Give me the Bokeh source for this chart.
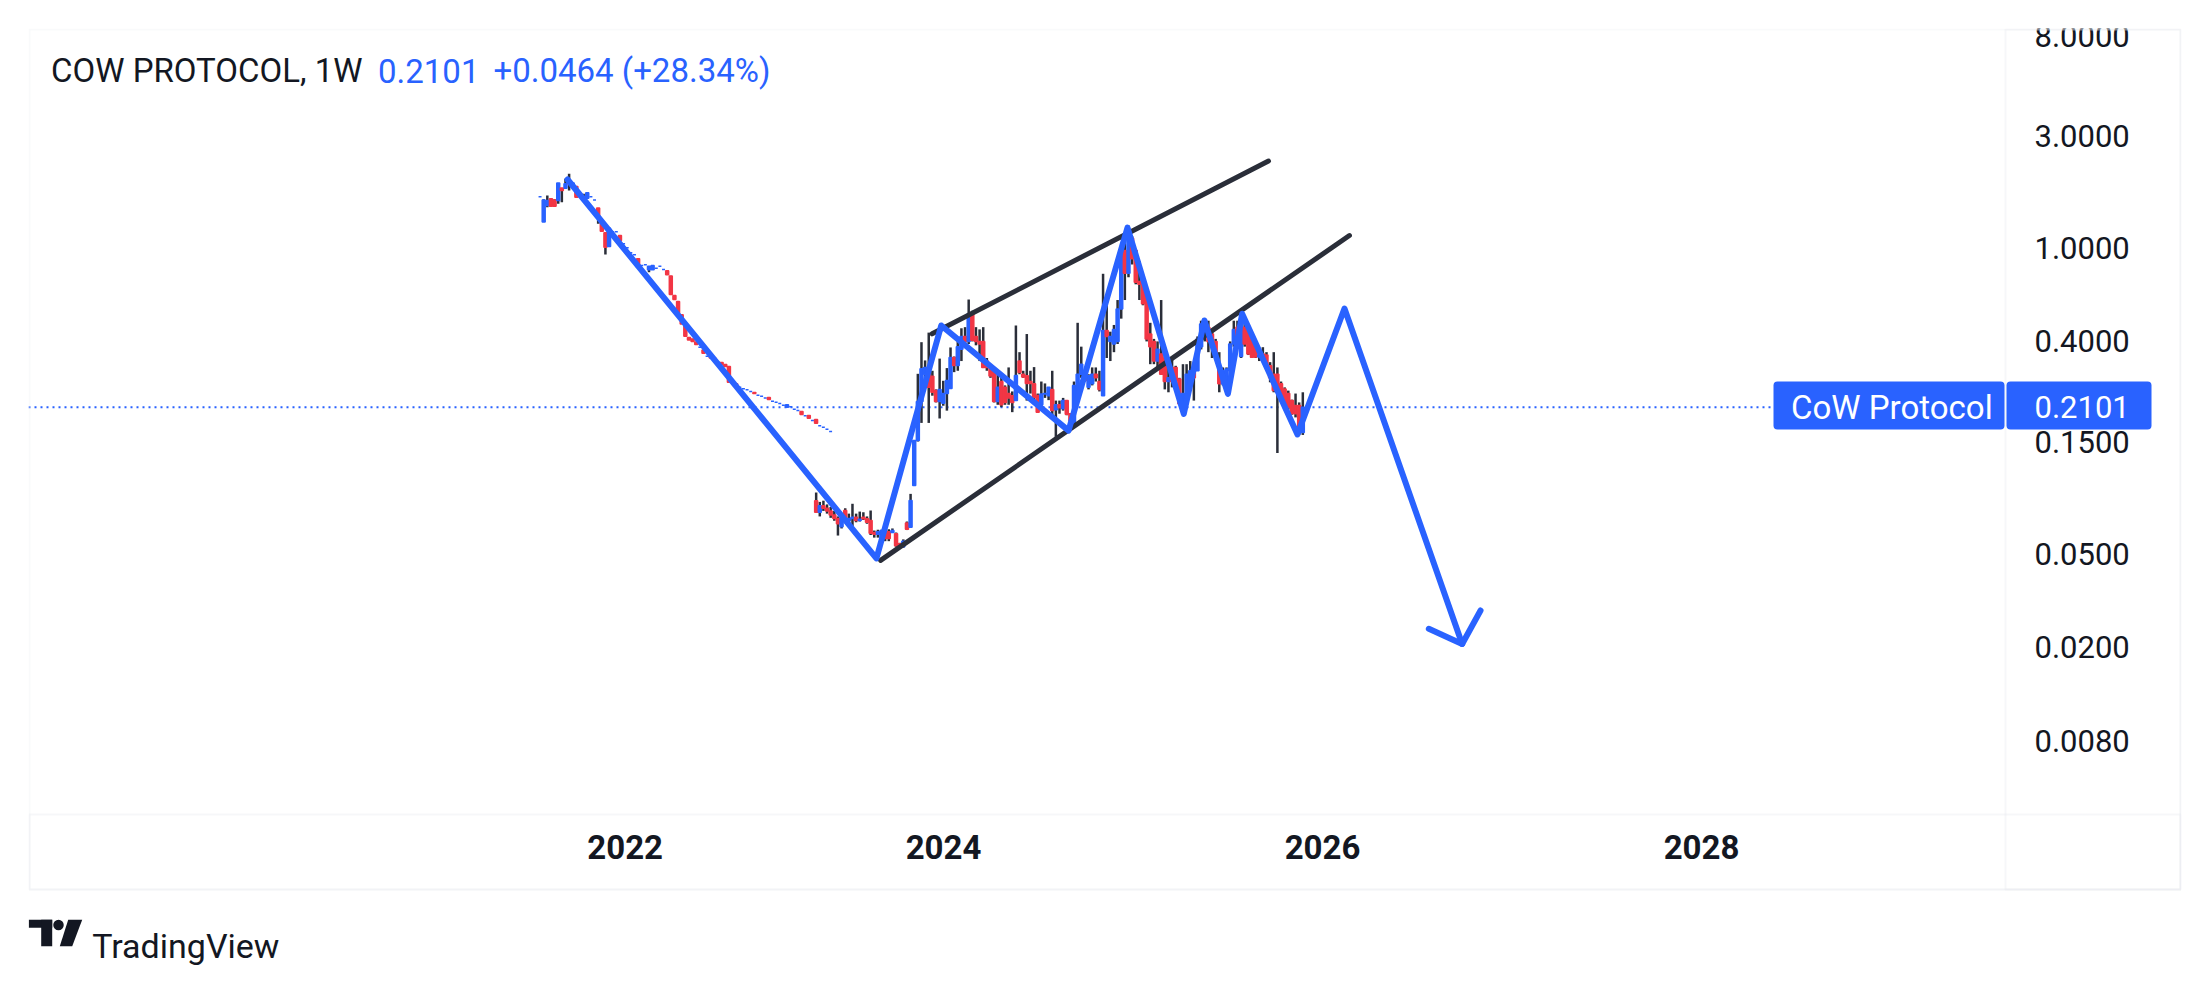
import numpy as np
from bokeh.plotting import figure
from bokeh.models import (Range1d, FixedTicker, PrintfTickFormatter, CustomJSTickFormatter,
                          Label, BoxAnnotation, ColumnDataSource)
from bokeh.embed import file_html
from bokeh.resources import INLINE

# --- weekly candles (decimal year of first bar, then o/h/l/c) ---
a_start = 2021.871
a_open = [1.65, 1.29, 1.515, 1.618, 1.60, 1.59, 1.80, 1.795, 1.93, 1.82,
          1.825, 1.66, 1.65, 1.627, 1.65, 1.60, 1.48, 1.286, 1.159, 1.014,
          1.171, 1.171, 1.129, 1.041, 1.001, 0.953, 0.935, 0.899, 0.842, 0.847,
          0.807, 0.807, 0.820, 0.836, 0.809, 0.799, 0.760, 0.627, 0.591, 0.519,
          0.475, 0.416, 0.410, 0.398, 0.378, 0.368, 0.346, 0.348, 0.340, 0.327,
          0.325, 0.319, 0.313, 0.2665, 0.264, 0.2555, 0.2513, 0.2489, 0.2449, 0.2424,
          0.236, 0.234, 0.230, 0.231, 0.2227, 0.2205, 0.2177, 0.2141, 0.210, 0.2107,
          0.2059, 0.2033, 0.2013, 0.1929, 0.1935, 0.1843, 0.1861, 0.1749, 0.1726, 0.1692,
          0.1654]
a_high = [1.65, 1.61, 1.67, 1.62, 1.61, 1.89, 1.80, 1.97, 2.07, 1.89,
          1.83, 1.70, 1.70, 1.716, 1.65, 1.60, 1.48, 1.29, 1.16, 1.217,
          1.171, 1.171, 1.13, 1.041, 1.001, 0.953, 0.935, 0.90, 0.842, 0.847,
          0.836, 0.842, 0.820, 0.836, 0.809, 0.80, 0.76, 0.627, 0.591, 0.519,
          0.475, 0.416, 0.41, 0.398, 0.378, 0.368, 0.346, 0.348, 0.34, 0.327,
          0.325, 0.319, 0.313, 0.2665, 0.264, 0.2555, 0.2513, 0.2489, 0.2449, 0.2424,
          0.236, 0.234, 0.230, 0.231, 0.2227, 0.2205, 0.2177, 0.2141, 0.2148, 0.2107,
          0.2059, 0.2033, 0.2013, 0.1929, 0.1935, 0.1843, 0.1861, 0.1749, 0.1726, 0.1692,
          0.1654]
a_low = [1.65, 1.29, 1.49, 1.50, 1.50, 1.54, 1.565, 1.795, 1.755, 1.82,
         1.644, 1.644, 1.607, 1.627, 1.65, 1.60, 1.266, 1.178, 0.937, 1.014,
         1.171, 1.171, 1.075, 1.041, 1.001, 0.953, 0.935, 0.828, 0.842, 0.847,
         0.788, 0.807, 0.820, 0.836, 0.809, 0.768, 0.633, 0.603, 0.524, 0.475,
         0.421, 0.406, 0.40, 0.388, 0.378, 0.356, 0.346, 0.34, 0.332, 0.327,
         0.32, 0.313, 0.268, 0.2665, 0.258, 0.2555, 0.2513, 0.2489, 0.2449, 0.24,
         0.236, 0.234, 0.230, 0.2264, 0.2227, 0.2205, 0.2177, 0.2141, 0.210, 0.2107,
         0.2059, 0.2033, 0.1954, 0.1929, 0.1886, 0.1843, 0.1795, 0.1749, 0.1726, 0.1692,
         0.1654]
a_close = [1.65, 1.60, 1.59, 1.505, 1.505, 1.89, 1.755, 1.875, 1.875, 1.89,
           1.644, 1.655, 1.645, 1.716, 1.65, 1.60, 1.351, 1.178, 1.007, 1.213,
           1.171, 1.171, 1.075, 1.041, 1.001, 0.953, 0.935, 0.828, 0.842, 0.847,
           0.836, 0.842, 0.820, 0.836, 0.809, 0.768, 0.633, 0.603, 0.524, 0.475,
           0.421, 0.406, 0.40, 0.388, 0.378, 0.356, 0.346, 0.34, 0.332, 0.327,
           0.32, 0.313, 0.268, 0.2665, 0.258, 0.2555, 0.2513, 0.2489, 0.2449, 0.24,
           0.236, 0.234, 0.230, 0.2264, 0.2227, 0.2205, 0.2177, 0.2141, 0.2148, 0.2107,
           0.2059, 0.2033, 0.1954, 0.1929, 0.1886, 0.1843, 0.1795, 0.1749, 0.1726, 0.1692,
           0.1654]

b_start = 2023.328
b_open = [0.084, 0.075, 0.080, 0.078, 0.076, 0.073, 0.0705, 0.065, 0.0763, 0.069,
          0.0705, 0.0715, 0.0692, 0.0715, 0.0703, 0.0692, 0.0615, 0.0605, 0.0575, 0.0627,
          0.062, 0.0615, 0.0607, 0.0551, 0.0535, 0.0675, 0.0648, 0.0975, 0.1515, 0.222,
          0.29, 0.308, 0.284, 0.247, 0.222, 0.218, 0.24, 0.252, 0.342, 0.316,
          0.37, 0.42, 0.40, 0.524, 0.42, 0.40, 0.40, 0.33, 0.31, 0.30,
          0.222, 0.27, 0.255, 0.24, 0.235, 0.224, 0.33, 0.29, 0.286, 0.27,
          0.264, 0.2354, 0.215, 0.239, 0.235, 0.25, 0.205, 0.215, 0.207, 0.224,
          0.197, 0.178, 0.2354, 0.29, 0.29, 0.255, 0.264, 0.29, 0.27, 0.235,
          0.445, 0.40, 0.39, 0.40, 0.55, 0.975, 0.78, 1.10, 0.975, 0.72,
          0.715, 0.638, 0.43, 0.40, 0.33, 0.354, 0.34, 0.27, 0.31, 0.31,
          0.277, 0.22, 0.24, 0.26, 0.31, 0.30, 0.38, 0.475, 0.46, 0.43,
          0.40, 0.31, 0.264, 0.268, 0.30, 0.39, 0.46, 0.345, 0.46, 0.445,
          0.417, 0.39, 0.343, 0.354, 0.35, 0.315, 0.29, 0.29, 0.264, 0.251,
          0.24, 0.224, 0.2135, 0.2135, 0.1637]
b_high = [0.091, 0.083, 0.084, 0.081, 0.079, 0.076, 0.072, 0.071, 0.078, 0.074,
          0.0815, 0.074, 0.0755, 0.075, 0.072, 0.0763, 0.0627, 0.0632, 0.0632, 0.064,
          0.0635, 0.064, 0.0615, 0.0556, 0.0575, 0.0685, 0.0898, 0.1515, 0.2912, 0.397,
          0.332, 0.436, 0.30, 0.25, 0.338, 0.272, 0.308, 0.377, 0.345, 0.40,
          0.455, 0.46, 0.603, 0.54, 0.46, 0.45, 0.46, 0.34, 0.31, 0.31,
          0.29, 0.29, 0.26, 0.31, 0.245, 0.4675, 0.36, 0.30, 0.43, 0.30,
          0.311, 0.24, 0.27, 0.265, 0.255, 0.30, 0.224, 0.224, 0.23, 0.225,
          0.197, 0.27, 0.48, 0.38, 0.30, 0.29, 0.31, 0.31, 0.30, 0.776,
          0.60, 0.44, 0.47, 0.60, 1.04, 1.11, 1.245, 1.12, 0.99, 0.88,
          0.72, 0.66, 0.48, 0.41, 0.40, 0.60, 0.36, 0.33, 0.337, 0.315,
          0.28, 0.32, 0.32, 0.33, 0.32, 0.42, 0.49, 0.50, 0.49, 0.445,
          0.41, 0.36, 0.31, 0.31, 0.40, 0.49, 0.49, 0.524, 0.505, 0.45,
          0.42, 0.40, 0.37, 0.378, 0.36, 0.3265, 0.36, 0.31, 0.27, 0.255,
          0.247, 0.226, 0.24, 0.22, 0.243]
b_low = [0.075, 0.072, 0.076, 0.074, 0.071, 0.069, 0.0597, 0.064, 0.068, 0.068,
         0.064, 0.068, 0.0685, 0.0695, 0.067, 0.060, 0.0585, 0.0585, 0.0565, 0.0565,
         0.0565, 0.0612, 0.0535, 0.0535, 0.053, 0.063, 0.0645, 0.097, 0.15, 0.18,
         0.264, 0.18, 0.235, 0.22, 0.188, 0.213, 0.203, 0.252, 0.296, 0.30,
         0.33, 0.385, 0.39, 0.40, 0.385, 0.33, 0.31, 0.30, 0.28, 0.22,
         0.215, 0.21, 0.215, 0.215, 0.20, 0.224, 0.29, 0.28, 0.224, 0.24,
         0.216, 0.20, 0.21, 0.23, 0.225, 0.19, 0.157, 0.197, 0.203, 0.194,
         0.178, 0.175, 0.23, 0.28, 0.27, 0.25, 0.26, 0.27, 0.245, 0.235,
         0.34, 0.33, 0.36, 0.39, 0.50, 0.60, 0.75, 0.85, 0.70, 0.60,
         0.57, 0.40, 0.32, 0.32, 0.31, 0.29, 0.25, 0.243, 0.255, 0.27,
         0.215, 0.197, 0.24, 0.255, 0.224, 0.30, 0.37, 0.40, 0.36, 0.34,
         0.34, 0.243, 0.26, 0.26, 0.29, 0.38, 0.39, 0.34, 0.38, 0.35,
         0.34, 0.34, 0.33, 0.33, 0.30, 0.268, 0.243, 0.134, 0.2315, 0.215,
         0.205, 0.195, 0.19, 0.16, 0.16]
b_close = [0.075, 0.080, 0.078, 0.076, 0.073, 0.0705, 0.067, 0.0703, 0.069, 0.0705,
           0.0715, 0.0692, 0.070, 0.0703, 0.068, 0.061, 0.0605, 0.062, 0.0627, 0.058,
           0.058, 0.0628, 0.054, 0.0538, 0.0565, 0.0635, 0.0842, 0.1515, 0.222, 0.306,
           0.31, 0.255, 0.243, 0.222, 0.25, 0.24, 0.273, 0.342, 0.316, 0.38,
           0.42, 0.40, 0.524, 0.405, 0.40, 0.39, 0.31, 0.31, 0.285, 0.222,
           0.255, 0.215, 0.22, 0.23, 0.22, 0.2864, 0.295, 0.282, 0.265, 0.265,
           0.2315, 0.20, 0.239, 0.24, 0.255, 0.2033, 0.215, 0.209, 0.224, 0.196,
           0.184, 0.26, 0.29, 0.32, 0.273, 0.286, 0.29, 0.28, 0.25, 0.445,
           0.42, 0.42, 0.45, 0.55, 0.95, 0.78, 1.10, 0.90, 0.715, 0.70,
           0.578, 0.41, 0.38, 0.33, 0.37, 0.29, 0.27, 0.28, 0.27, 0.2727,
           0.217, 0.24, 0.29, 0.30, 0.28, 0.41, 0.475, 0.45, 0.40, 0.38,
           0.345, 0.264, 0.30, 0.305, 0.39, 0.45, 0.40, 0.50, 0.39, 0.354,
           0.3426, 0.343, 0.35, 0.332, 0.31, 0.28, 0.247, 0.25, 0.232, 0.217,
           0.21, 0.197, 0.197, 0.1637, 0.2101]

# --- drawings on the chart (decimal year, price) ---
zigzag_x = [2022.016, 2023.646, 2023.988, 2024.660, 2024.971, 2025.268,
            2025.377, 2025.501, 2025.576, 2025.868, 2026.116, 2026.737]
zigzag_y = [1.955, 0.0477, 0.4675, 0.167, 1.221, 0.1968,
            0.491, 0.2393, 0.5243, 0.1607, 0.5523, 0.02063]
arrow_x = [2026.561, 2026.737, 2026.834]
arrow_y = [0.02393, 0.02063, 0.02864]
upper_x = [2023.940, 2025.715]
upper_y = [0.431, 2.341]
lower_x = [2023.668, 2026.142]
lower_y = [0.0468, 1.129]

symbol = "COW PROTOCOL, 1W"
short_name = "CoW Protocol"
last_price = 0.2101
change = 0.0464
change_pct = 28.34

y_ticks = [0.008, 0.02, 0.05, 0.15, 0.4, 1, 3, 8]
x_ticks = [2022.32, 2024, 2026, 2028]

BLUE = "#2962ff"
RED = "#f23645"
WICK = "#2a2e39"
INK = "#131722"
RULE = "#e0e3eb"
EDGE = "#eceef3"
WEEK = 7 / 365.25
FONT = "Roboto"

# page layout in screen pixels: the frame holds the whole widget, price scale
# and time scale are drawn inside it with fixed-location axes
L, T = 28, 28              # frame origin on the page
FW, FH = 2153, 937         # frame size
SCALE_X, SCALE_Y = 2005, 814   # price-scale and time-scale separators
BOX_B = 889                # bottom of the widget box
PX_PER_YEAR = 189.5
X_2024 = 943
PX_PER_DECADE = 235
Y_ONE = 247.4


def xpx(px):
    return 2024 + (px - X_2024) / PX_PER_YEAR


def ypx(py):
    return 10 ** ((Y_ONE - py) / PX_PER_DECADE)


def candles(start, o, h, l, c):
    o, h, l, c = (np.asarray(v, dtype=float) for v in (o, h, l, c))
    x = start + np.arange(len(o)) * WEEK
    return dict(x=x,
                hi=np.maximum(h, np.maximum(o, c)),
                lo=np.minimum(l, np.minimum(o, c)),
                top=np.maximum(o, c),
                bot=np.minimum(o, c),
                color=np.where(c >= o, BLUE, RED))


parts = [candles(a_start, a_open, a_high, a_low, a_close),
         candles(b_start, b_open, b_high, b_low, b_close)]
src = ColumnDataSource({k: np.concatenate([p_[k] for p_ in parts]) for k in parts[0]})

p = figure(width=L + FW + 10, height=T + FH + 10,
           frame_width=FW, frame_height=FH,
           x_range=Range1d(xpx(L), xpx(L + FW)), y_range=Range1d(ypx(T + FH), ypx(T)),
           y_axis_type="log", y_axis_location="right",
           min_border_left=L, min_border_top=T, min_border_right=10, min_border_bottom=10,
           output_backend="svg", toolbar_location=None)
p.background_fill_color = "white"
p.border_fill_color = "white"
p.outline_line_color = None
p.grid.visible = False

# widget box and scale separators
box_kw = dict(fill_alpha=0, line_width=2)
p.add_layout(BoxAnnotation(left=xpx(L + 1), right=xpx(L + FW - 1), top=ypx(T + 1),
                           bottom=ypx(BOX_B), line_color=EDGE, **box_kw))
p.add_layout(BoxAnnotation(left=xpx(SCALE_X), right=xpx(L + FW - 1), top=ypx(T + 1),
                           bottom=ypx(BOX_B), line_color=RULE, **box_kw))
p.add_layout(BoxAnnotation(left=xpx(L + 1), right=xpx(L + FW - 1), top=ypx(SCALE_Y),
                           bottom=ypx(BOX_B), line_color=RULE, **box_kw))

# axes, pinned to the separators
p.yaxis.fixed_location = xpx(SCALE_X)
p.xaxis.fixed_location = ypx(SCALE_Y)
p.yaxis.ticker = FixedTicker(ticks=y_ticks)
p.yaxis.formatter = PrintfTickFormatter(format="%.4f")
p.xaxis.ticker = FixedTicker(ticks=x_ticks)
p.xaxis.formatter = CustomJSTickFormatter(code="return String(Math.floor(tick))")
for ax in (p.xaxis, p.yaxis):
    ax.axis_line_color = None
    ax.major_tick_line_color = None
    ax.minor_tick_line_color = None
    ax.major_tick_out = 0
    ax.major_tick_in = 0
    ax.minor_tick_out = 0
    ax.major_label_text_color = INK
    ax.major_label_text_font = FONT
p.yaxis.major_label_text_font_size = "31px"
p.yaxis.major_label_standoff = 29
p.xaxis.major_label_text_font_size = "33px"
p.xaxis.major_label_text_font_style = "bold"
p.xaxis.major_label_standoff = 20

# last price line, up to the price tag
p.segment(x0=xpx(L), x1=xpx(1773), y0=last_price, y1=last_price,
          line_color=BLUE, line_dash="2 4", line_width=2)

# candles
p.segment(x0="x", y0="lo", x1="x", y1="hi", source=src, line_color=WICK, line_width=2.5)
p.vbar(x="x", width=WEEK * 0.82, top="top", bottom="bot", source=src,
       fill_color="color", line_color="color", line_width=1.5)

# drawings
p.line(upper_x, upper_y, line_color=WICK, line_width=5, line_cap="round")
p.line(lower_x, lower_y, line_color=WICK, line_width=5, line_cap="round")
p.line(zigzag_x, zigzag_y, line_color=BLUE, line_width=6, line_join="round", line_cap="round")
p.line(arrow_x, arrow_y, line_color=BLUE, line_width=6, line_join="round", line_cap="round")

# legend line at top left
lab_kw = dict(x_units="screen", y_units="screen", text_baseline="middle",
              text_font=FONT, text_font_size="33px")
p.add_layout(Label(x=50.5 - L, y=FH - (70 - T), text=symbol, text_color=INK, **lab_kw))
p.add_layout(Label(x=377.5 - L, y=FH - (70 - T), text=f"{last_price:.4f}",
                   text_color=BLUE, **lab_kw))
p.add_layout(Label(x=493 - L, y=FH - (70 - T), text=f"+{change:.4f} (+{change_pct:.2f}%)",
                   text_color=BLUE, **lab_kw))

# price tags on the right: name tag inside the chart, value tag on the price scale
tag_box = dict(top=ypx(381), bottom=ypx(429), fill_color=BLUE, fill_alpha=1,
               line_color=None, border_radius=4)
p.add_layout(BoxAnnotation(left=xpx(1773), right=xpx(2004), **tag_box))
p.add_layout(BoxAnnotation(left=xpx(2006), right=xpx(2151), **tag_box))
tag_kw = dict(x_units="screen", y=last_price, text_baseline="middle", text_align="left",
              text_color="white", text_font=FONT)
p.add_layout(Label(x=1790.5 - L, text=short_name, text_font_size="33px", **tag_kw))
p.add_layout(Label(x=2034 - L, text=f"{last_price:.4f}", text_font_size="31px", **tag_kw))

# TradingView mark under the widget
p.quad(left=[xpx(28.3), xpx(40.7)], right=[xpx(51.7), xpx(51.7)],
       top=[ypx(919.3), ypx(919.3)], bottom=[ypx(927.3), ypx(945.7)],
       fill_color=INK, line_color=None)
p.scatter([xpx(58)], [ypx(924.5)], size=10.5, marker="circle", fill_color=INK, line_color=None)
p.patch([xpx(67.7), xpx(81.7), xpx(71.7), xpx(59.3)],
        [ypx(919.3), ypx(919.3), ypx(945.7), ypx(945.7)], fill_color=INK, line_color=None)
p.add_layout(Label(x=91.7 - L, y=FH - (945.7 - T), text="TradingView", text_color=INK,
                   x_units="screen", y_units="screen", text_baseline="alphabetic",
                   text_font=FONT, text_font_size="34px"))

open("out.html", "w").write(file_html(p, INLINE))
